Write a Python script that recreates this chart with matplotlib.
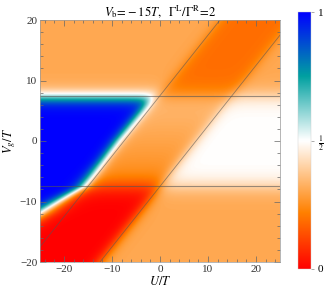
"""
Heat map of the transport quantity vs U and Vg at Vb = -15T, GammaL/GammaR = 2.
"""
import numpy as np
import matplotlib
matplotlib.use('Agg')
import matplotlib.pyplot as plt
from matplotlib.colors import LinearSegmentedColormap

plt.rcParams['font.family'] = ['Liberation Serif', 'DejaVu Serif']
plt.rcParams['mathtext.fontset'] = 'stix'

# axis ranges (units of T)
u_range = [-25, 25]
vg_range = [-20, 20]

# resonance lines: Vg = +-|Vb|/2 and Vg = U +- |Vb|/2
h_lines = [7.5, -7.5]
d_offsets = [7.5, -7.5]
edge_w = 0.9

# plateau levels
lvl_top_side = 0.31
lvl_top_strip = 0.19
lvl_mid_top = 0.36
lvl_mid_bottom = 0.24
lvl_mid_right = 0.5
lvl_bot_left = 0.0
lvl_bot_right = 0.31
lvl_blue = 1.0

# edge of the blue plateau
blue_edge_vg = [-20, -11.9, -7.5, -3.1, 0, 6, 20]
blue_edge_u = [-42, -25, -16, -11.9, -9, -2.8, 10]
blue_edge_w = [1.6, 1.6, 1.0, 0.8, 0.8, 0.8, 0.8]
blue_top_vg = 7.17
blue_top_w = 0.65

# colour scale
cmap_pos = [0.0, 0.22, 0.5, 0.75, 1.0]
cmap_cols = ['#ff0000', '#ff8000', '#ffffff', '#00a0a0', '#0000ff']
cbar_ticks = [0, 0.5, 1]
cbar_labels = ['0', r'$\frac{1}{2}$', '1']


def s(x):
    return 1.0 / (1.0 + np.exp(-x))


u = np.linspace(u_range[0], u_range[1], 500)
vg = np.linspace(vg_range[0], vg_range[1], 500)
U, V = np.meshgrid(u, vg)

A = s((V - h_lines[0]) / edge_w)
B = s((V - h_lines[1]) / edge_w)
C = s((V - U - d_offsets[0]) / edge_w)
D = s((V - U - d_offsets[1]) / edge_w)

top = C * lvl_top_side + (D - C) * lvl_top_strip + (1 - D) * lvl_top_side
mid_lvl = np.interp(V, [h_lines[1], h_lines[0]], [lvl_mid_bottom, lvl_mid_top])
mid = D * mid_lvl + (1 - D) * lvl_mid_right
bot = D * lvl_bot_left + (1 - D) * lvl_bot_right
rest = A * top + (B - A) * mid + (1 - B) * bot

ub = np.interp(V, blue_edge_vg, blue_edge_u)
wb = np.interp(V, blue_edge_vg, blue_edge_w)
P = s((ub - U) / wb) * s((blue_top_vg - V) / blue_top_w)
Z = P * lvl_blue + (1 - P) * rest

cmap = LinearSegmentedColormap.from_list('bw', list(zip(cmap_pos, cmap_cols)))

fig = plt.figure(figsize=(3.32, 2.96), dpi=100)
ax = fig.add_axes([40 / 332, 34 / 296, 240 / 332, 242 / 296])
im = ax.imshow(Z, origin='lower', extent=u_range + vg_range, aspect='auto',
               cmap=cmap, vmin=0, vmax=1, interpolation='bilinear')

for h in h_lines:
    ax.axhline(h, color='#555555', lw=0.8, alpha=0.6)
for d in d_offsets:
    ax.plot(u, u + d, color='#555555', lw=0.6, alpha=0.6)

ax.set_xlim(u_range)
ax.set_ylim(vg_range)
ax.set_xticks([-20, -10, 0, 10, 20])
ax.set_yticks([-20, -10, 0, 10, 20])
ax.set_xticks(np.arange(-24, 25, 2), minor=True)
ax.set_yticks(np.arange(-20, 21, 2), minor=True)
ax.set_xticklabels(['\u221220', '\u221210', '0', '10', '20'])
ax.set_yticklabels(['\u221220', '\u221210', '0', '10', '20'])
ax.tick_params(which='both', direction='in', top=True, right=True,
               color='#666666', labelsize=8, labelcolor='#333333', width=0.5)
ax.tick_params(which='major', length=4, pad=2)
ax.tick_params(which='minor', length=2)
for sp in ax.spines.values():
    sp.set_color('#999999')
    sp.set_linewidth(0.5)

ax.set_xlabel(r'$U/T$', fontsize=9, labelpad=1)
ax.set_ylabel(r'$V_g/T$', fontsize=9, labelpad=1)
ax.set_title(r'$V_{\rm b}\!=\!-15T,\ \ \Gamma^{\rm L}/\Gamma^{\rm R}\!=\!2$', fontsize=9, pad=3)

cax = fig.add_axes([298 / 332, 27 / 296, 13 / 332, 257 / 296])
cb = fig.colorbar(im, cax=cax, ticks=cbar_ticks)
cb.ax.set_yticklabels(cbar_labels)
cb.ax.tick_params(labelsize=8, length=2, width=0.5, color='#888888', pad=3)
cb.outline.set_linewidth(0.3)
cb.outline.set_edgecolor('#cccccc')

plt.savefig('out.png', dpi=100)
plt.close()
